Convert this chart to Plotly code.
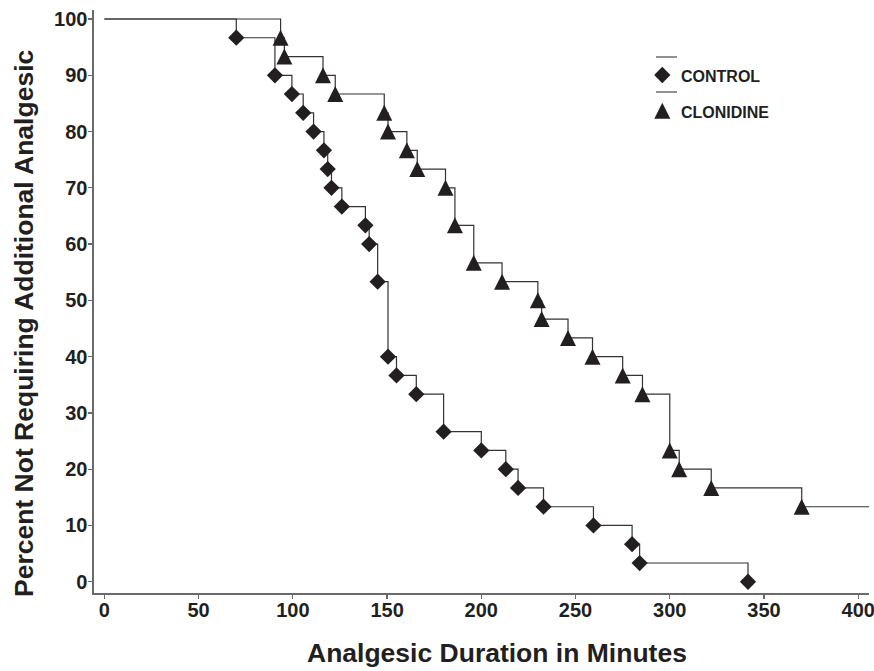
import plotly.graph_objects as go

# ---------------- data ----------------
start_time = 0
start_pct = 100.0

ctrl_time = [70, 90.5, 99.5, 105.5, 111, 116.5, 118.5, 120.5, 126, 138.5, 140.5, 145,
             150.5, 155, 165.5, 180, 200, 213, 219.5, 233, 259.5, 280, 284, 341.5]
ctrl_pct = [96.67, 90.0, 86.67, 83.33, 80.0, 76.67, 73.33, 70.0, 66.67, 63.33, 60.0, 53.33,
            40.0, 36.67, 33.33, 26.67, 23.33, 20.0, 16.67, 13.33, 10.0, 6.67, 3.33, 0.0]

clon_time = [93.5, 95.5, 116, 122.5, 148.5, 150.5, 160.5, 166, 181, 186, 196, 211,
             230, 232, 246, 259, 275, 285.5, 300, 305, 322, 370]
clon_pct = [96.67, 93.33, 90.0, 86.67, 83.33, 80.0, 76.67, 73.33, 70.0, 63.33, 56.67, 53.33,
            50.0, 46.67, 43.33, 40.0, 36.67, 33.33, 23.33, 20.0, 16.67, 13.33]
clon_last_followup = 410

x_ticks = [0, 50, 100, 150, 200, 250, 300, 350, 400]
y_ticks = [0, 10, 20, 30, 40, 50, 60, 70, 80, 90, 100]
legend_labels = ["CONTROL", "CLONIDINE"]
x_title = "Analgesic Duration in Minutes"
y_title = "Percent Not Requiring Additional Analgesic"

# ---------------- layout geometry / style ----------------
W, H = 874, 671
L, R, T, B = 94, 5, 10, 78
PW, PH = W - L - R, H - T - B


def px_x(p):
    return (p - L) / PW


def px_y(p):
    return (H - B - p) / PH


INK = "#231f20"
LINE = "#333333"
AXIS = "#6a6a6a"
FONT = "Liberation Sans, Arial, sans-serif"
DIA = 12.5
TRI = 16

fig = go.Figure()

# step curves
fig.add_trace(go.Scatter(
    x=[start_time] + clon_time + [clon_last_followup],
    y=[start_pct] + clon_pct + [clon_pct[-1]],
    mode="lines", line=dict(shape="hv", color=LINE, width=1.2),
    hoverinfo="skip", showlegend=False))
fig.add_trace(go.Scatter(
    x=[start_time] + ctrl_time, y=[start_pct] + ctrl_pct,
    mode="lines", line=dict(shape="hv", color=LINE, width=1.2),
    hoverinfo="skip", showlegend=False))

# event markers
fig.add_trace(go.Scatter(
    x=ctrl_time, y=ctrl_pct, mode="markers", name=legend_labels[0],
    marker=dict(symbol="diamond", size=DIA, color=INK),
    cliponaxis=False, showlegend=False))
fig.add_trace(go.Scatter(
    x=clon_time, y=clon_pct, mode="markers", name=legend_labels[1],
    marker=dict(symbol="arrow-down", angle=180, standoff=TRI / 2, size=TRI, color=INK),
    cliponaxis=False, showlegend=False))

# ---------------- hand-drawn legend ----------------
leg_marker_x = 662.3
leg_line_y = [57, 92]
leg_marker_y = [75, 110.7]
leg_text_y = [76.3, 112.5]
leg_text_x = 679

for ly in leg_line_y:
    fig.add_shape(type="line", xref="paper", yref="paper",
                  x0=px_x(656), x1=px_x(677), y0=px_y(ly), y1=px_y(ly),
                  line=dict(color="#555555", width=1.3))

fig.add_trace(go.Scatter(
    x=[leg_marker_x], y=[leg_marker_y[0]], xaxis="x2", yaxis="y2", mode="markers",
    marker=dict(symbol="diamond", size=DIA, color=INK), hoverinfo="skip", showlegend=False,
    cliponaxis=False))
fig.add_trace(go.Scatter(
    x=[leg_marker_x], y=[leg_marker_y[1]], xaxis="x2", yaxis="y2", mode="markers",
    marker=dict(symbol="arrow-down", angle=180, standoff=TRI / 2, size=TRI, color=INK),
    hoverinfo="skip", showlegend=False, cliponaxis=False))

for lab, ty in zip(legend_labels, leg_text_y):
    fig.add_annotation(text=lab, xref="paper", yref="paper", x=px_x(leg_text_x), y=px_y(ty),
                       xanchor="left", yanchor="middle", showarrow=False,
                       font=dict(family=FONT, size=16, color=INK, weight="bold"))

# axis titles
fig.add_annotation(text=x_title, xref="paper", yref="paper", x=px_x(496.5), y=px_y(652.5),
                   xanchor="center", yanchor="middle", showarrow=False,
                   font=dict(family=FONT, size=26.5, color=INK, weight="bold"))
fig.add_annotation(text=y_title, xref="paper", yref="paper", x=px_x(23.5), y=px_y(323.5),
                   xanchor="center", yanchor="middle", showarrow=False, textangle=-90,
                   font=dict(family=FONT, size=26.5, color=INK, weight="bold"))

fig.update_layout(
    width=W, height=H,
    margin=dict(l=L, r=R, t=T, b=B, autoexpand=False),
    paper_bgcolor="white", plot_bgcolor="white",
    showlegend=False,
    font=dict(family=FONT, color=INK),
    xaxis=dict(range=[-5.5, 405.7], tickvals=x_ticks, ticks="outside", ticklen=4,
               tickwidth=1.3, tickcolor=AXIS, showline=True, linecolor=AXIS, linewidth=1.6,
               showgrid=False, zeroline=False, ticklabelstandoff=-6,
               ticklabeloverflow="allow",
               tickfont=dict(family=FONT, size=20, color=INK, weight="bold")),
    yaxis=dict(range=[-2.0, 101.6], tickvals=y_ticks, ticks="outside", ticklen=4,
               tickwidth=1.3, tickcolor=AXIS, showline=True, linecolor=AXIS, linewidth=1.6,
               showgrid=False, zeroline=False, ticklabelstandoff=-3,
               ticklabeloverflow="allow",
               tickfont=dict(family=FONT, size=20, color=INK, weight="bold")),
    xaxis2=dict(overlaying="x", range=[L, W - R], visible=False, fixedrange=True),
    yaxis2=dict(overlaying="y", range=[H - B, T], visible=False, fixedrange=True),
)

fig.write_html("out.html", config={"displayModeBar": False, "staticPlot": True},
               post_script="document.body.style.margin='0px';document.body.style.overflow='hidden';")
